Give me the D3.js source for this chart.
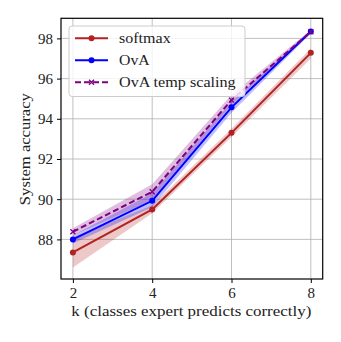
<!DOCTYPE html>
<html>
<head>
<meta charset="utf-8">
<script src="https://cdn.jsdelivr.net/npm/d3@7"></script>
<style>
  body { margin: 0; background: #fff; }
  text { font-family: "Liberation Serif", "DejaVu Serif", serif; }
</style>
</head>
<body>
<div id="chart"></div>
<script>
// data
var ks = [2, 4, 6, 8]
var softmax = [87.35, 89.49, 93.3, 97.28]
var softmaxLo = [86.6, 89.3, 93.1, 97.0]
var softmaxHi = [88.1, 89.7, 93.5, 97.5]
var ova = [88.0, 89.92, 94.57, 98.34]
var ovaLo = [87.8, 89.6, 94.3, 98.25]
var ovaHi = [88.2, 90.3, 94.85, 98.42]
var ovaTemp = [88.38, 90.37, 94.93, 98.33]
var ovaTempLo = [88.2, 89.95, 94.7, 98.25]
var ovaTempHi = [88.55, 90.75, 95.2, 98.42]
var yTicks = [88, 90, 92, 94, 96, 98]
var legendWidths = [51.7, 30.7, 116.7]

var W = 341, H = 342
var pLeft = 61, pRight = 322.7, pTop = 18.3, pBottom = 279

var svg = d3.select("#chart").append("svg")
    .attr("width", W)
    .attr("height", H)

var x = d3.scaleLinear().domain([1.7, 8.3]).range([pLeft, pRight])
var y = d3.scaleLinear().domain([86.03, 99.0]).range([pBottom, pTop])

// grid
svg.append("g").selectAll("line").data(ks).join("line")
    .attr("x1", d => x(d)).attr("x2", d => x(d))
    .attr("y1", pTop).attr("y2", pBottom)
    .attr("stroke", "#b0b0b0").attr("stroke-width", 0.8)
svg.append("g").selectAll("line").data(yTicks).join("line")
    .attr("x1", pLeft).attr("x2", pRight)
    .attr("y1", d => y(d)).attr("y2", d => y(d))
    .attr("stroke", "#b0b0b0").attr("stroke-width", 0.8)

var series = [
    { name: "softmax", v: softmax, lo: softmaxLo, hi: softmaxHi, color: "#b22222", dash: null, marker: "dot" },
    { name: "OvA", v: ova, lo: ovaLo, hi: ovaHi, color: "#0000ff", dash: null, marker: "dot" },
    { name: "OvA temp scaling", v: ovaTemp, lo: ovaTempLo, hi: ovaTempHi, color: "#800080", dash: "6,3", marker: "x" }
]

var area = d3.area()
    .x((d, i) => x(ks[i]))
    .y0(d => y(d[0]))
    .y1(d => y(d[1]))
var line = d3.line()
    .x((d, i) => x(ks[i]))
    .y(d => y(d))

series.forEach(function (s) {
    svg.append("path")
        .attr("d", area(s.lo.map((l, i) => [l, s.hi[i]])))
        .attr("fill", s.color)
        .attr("fill-opacity", 0.25)
})

series.forEach(function (s) {
    svg.append("path")
        .attr("d", line(s.v))
        .attr("fill", "none")
        .attr("stroke", s.color)
        .attr("stroke-width", 2)
        .attr("stroke-dasharray", s.dash)
    drawMarkers(svg, s, s.v.map((d, i) => [x(ks[i]), y(d)]))
})

function drawMarkers(g, s, pts) {
    pts.forEach(function (p) {
        if (s.marker == "dot") {
            g.append("circle").attr("cx", p[0]).attr("cy", p[1]).attr("r", 3)
                .attr("fill", s.color)
        } else {
            g.append("path")
                .attr("d", `M${p[0] - 2.5},${p[1] - 2.5}L${p[0] + 2.5},${p[1] + 2.5}M${p[0] - 2.5},${p[1] + 2.5}L${p[0] + 2.5},${p[1] - 2.5}`)
                .attr("stroke", s.color).attr("stroke-width", 1.3)
        }
    })
}

// frame
svg.append("rect")
    .attr("x", pLeft).attr("y", pTop)
    .attr("width", pRight - pLeft).attr("height", pBottom - pTop)
    .attr("fill", "none").attr("stroke", "#000").attr("stroke-width", 1.2)

// axes
var xAxis = svg.append("g")
    .attr("transform", `translate(0,${pBottom})`)
    .call(d3.axisBottom(x).tickValues(ks).tickFormat(d3.format("d")).tickSize(4).tickPadding(4))
var yAxis = svg.append("g")
    .attr("transform", `translate(${pLeft},0)`)
    .call(d3.axisLeft(y).tickValues(yTicks).tickFormat(d3.format("d")).tickSize(4).tickPadding(4))
;[xAxis, yAxis].forEach(function (a) {
    a.select(".domain").remove()
    a.selectAll("text").attr("font-size", 15).attr("fill", "#222")
        .style("font-family", '"Liberation Serif", serif')
    a.selectAll("line").attr("stroke", "#000").attr("stroke-width", 1)
})

svg.append("text")
    .attr("x", (pLeft + pRight) / 2 - 0.5).attr("y", 316)
    .attr("text-anchor", "middle").attr("font-size", 15).attr("fill", "#222")
    .attr("textLength", 240).attr("lengthAdjust", "spacingAndGlyphs")
    .text("k (classes expert predicts correctly)")
svg.append("text")
    .attr("transform", `translate(30,${(pTop + pBottom) / 2 + 0.5}) rotate(-90)`)
    .attr("text-anchor", "middle").attr("font-size", 15).attr("fill", "#222")
    .attr("textLength", 112).attr("lengthAdjust", "spacingAndGlyphs")
    .text("System accuracy")

// legend
var leg = svg.append("g")
leg.append("rect")
    .attr("x", 69).attr("y", 26).attr("width", 176).attr("height", 70.5).attr("rx", 3)
    .attr("fill", "#fff").attr("fill-opacity", 0.8)
    .attr("stroke", "#cccccc").attr("stroke-width", 1)
series.forEach(function (s, i) {
    var ly = 38.3 + i * 22
    leg.append("line")
        .attr("x1", 75).attr("x2", 108).attr("y1", ly).attr("y2", ly)
        .attr("stroke", s.color).attr("stroke-width", 2)
        .attr("stroke-dasharray", s.dash)
    drawMarkers(leg, s, [[91.5, ly]])
    leg.append("text")
        .attr("x", 119).attr("y", ly + 5)
        .attr("font-size", 15).attr("fill", "#222")
        .attr("textLength", legendWidths[i]).attr("lengthAdjust", "spacingAndGlyphs")
        .text(s.name)
})
</script>
</body>
</html>
